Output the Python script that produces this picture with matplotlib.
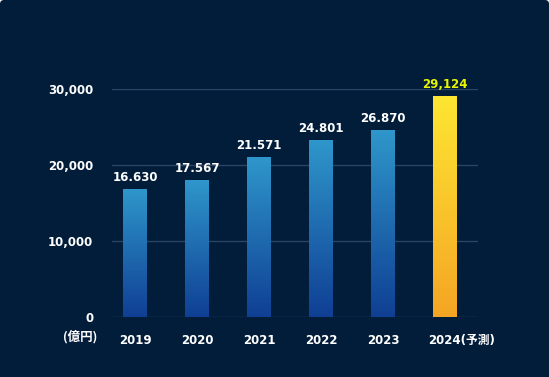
import numpy as np
import matplotlib.pyplot as plt
from matplotlib.colors import LinearSegmentedColormap
from matplotlib.patches import FancyBboxPatch

# data (bar heights as drawn, labels as printed)
years = ["2019", "2020", "2021", "2022", "2023", "2024(予測)"]
heights = [16880, 18070, 21090, 23330, 24650, 29120]
value_labels = ["16.630", "17.567", "21.571", "24.801", "26.870", "29,124"]
yticks = [0, 10000, 20000, 30000]
ytick_labels = ["0", "10,000", "20,000", "30,000"]
unit_label = "(億円)"

BG = "#011d3a"
GRID = "#2c4463"
blue_cm = LinearSegmentedColormap.from_list("blue", ["#0f3f94", "#2f97cb"])
gold_cm = LinearSegmentedColormap.from_list("gold", ["#f5a524", "#fde632"])
FAM = ["DejaVu Sans", "Noto Sans CJK JP"]

fig = plt.figure(figsize=(5.49, 3.77), dpi=100)
fig.patch.set_facecolor("white")
# panel with slightly rounded top corners (pixel coords)
fig.patches.append(FancyBboxPatch((0, -20), 549, 397,
                                  boxstyle="round,pad=0,rounding_size=4",
                                  transform=None, facecolor=BG,
                                  edgecolor="none", zorder=-10))

ax = fig.add_axes([0.204, 0.1584, 0.6667, 0.6042])
ax.set_facecolor("none")
for s in ax.spines.values():
    s.set_visible(False)

x = np.arange(len(years))
w = 0.387
bars = ax.bar(x, heights, width=w, facecolor="none", edgecolor="none", zorder=2)

grad = np.linspace(0, 1, 256).reshape(-1, 1)
for i, b in enumerate(bars):
    cm = gold_cm if i == len(bars) - 1 else blue_cm
    im = ax.imshow(grad, extent=[b.get_x(), b.get_x() + w, 0, b.get_height()],
                   origin="lower", aspect="auto", cmap=cm, zorder=2)
    im.set_clip_path(b)

for i, (xi, h, lab) in enumerate(zip(x, heights, value_labels)):
    col = "#e6f500" if i == len(x) - 1 else "white"
    ax.annotate(lab, (xi, h), xytext=(0, 4), textcoords="offset points",
                ha="center", va="bottom", color=col, fontsize=8.5,
                fontweight="bold", clip_on=False)

ax.set_xlim(-0.371, 5.532)
ax.set_ylim(0, 30000)
ax.set_yticks(yticks)
ax.set_yticklabels(ytick_labels)
# last label hangs to the right of its bar, so it is drawn separately
ax.set_xticks(x)
ax.set_xticklabels(years[:-1] + [""], family=FAM)
ax.annotate(years[-1], (x[-1], 0), xycoords=("data", "axes fraction"),
            xytext=(-12.5, -12), textcoords="offset points", ha="left",
            va="top", color="white", fontsize=8.5, fontweight="bold",
            family=FAM, annotation_clip=False)
ax.grid(axis="y", color=GRID, linewidth=1, zorder=0)
ax.set_axisbelow(True)
ax.tick_params(axis="y", length=0, pad=13.5, labelcolor="white", labelsize=8.5)
ax.tick_params(axis="x", length=0, pad=12, labelcolor="white", labelsize=8.5)
for t in ax.get_xticklabels() + ax.get_yticklabels():
    t.set_fontweight("bold")

fig.text(97 / 549, 1 - 337 / 377, unit_label, ha="right", va="center",
         color="white", fontsize=9, fontweight="bold",
         family=["Noto Sans CJK JP", "DejaVu Sans"])

fig.savefig("out.png", dpi=100, facecolor=fig.get_facecolor())
